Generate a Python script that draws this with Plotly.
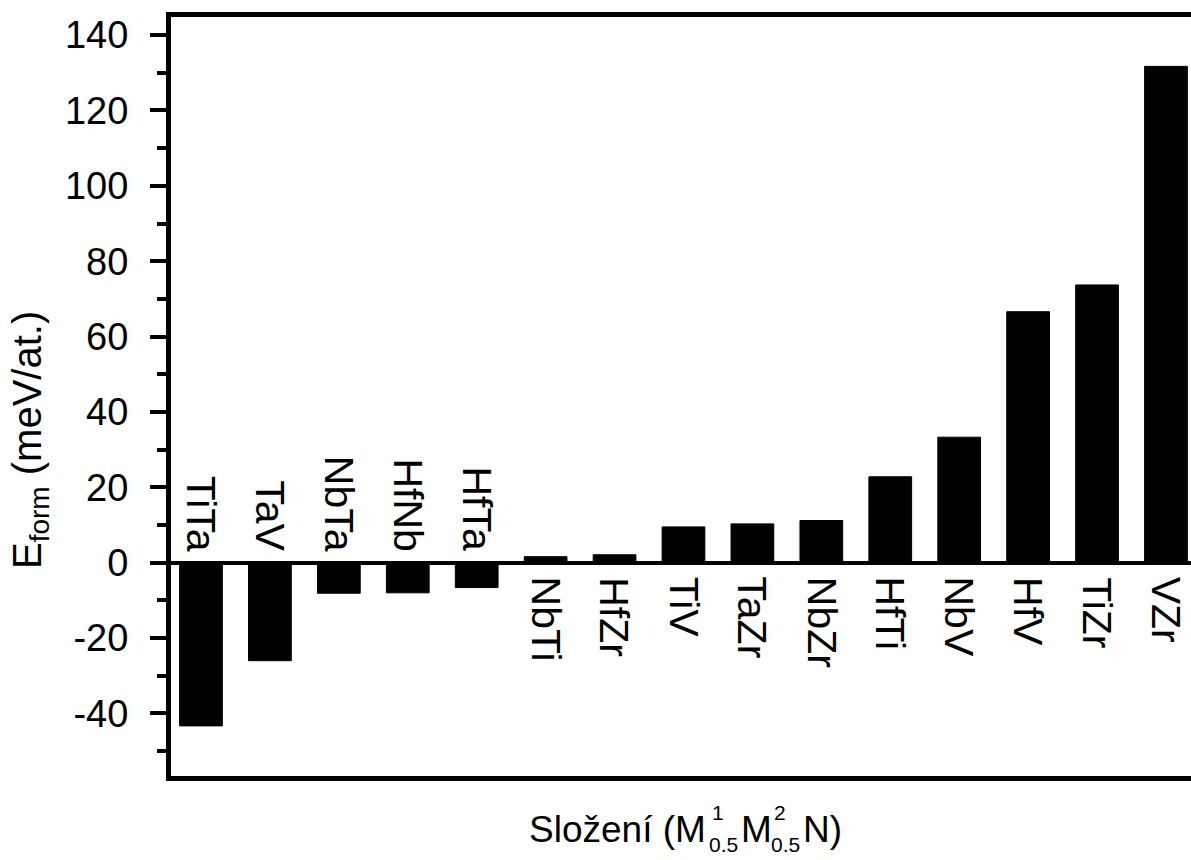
import plotly.graph_objects as go

# Formation energies of binary-metal nitrides (M1_0.5 M2_0.5 N), meV/at.
compositions = ["TiTa", "TaV", "NbTa", "HfNb", "HfTa", "NbTi", "HfZr", "TiV",
                "TaZr", "NbZr", "HfTi", "NbV", "HfV", "TiZr", "VZr"]
e_form = [-43.3, -26.0, -8.1, -8.0, -6.6, 1.6, 2.1, 9.5,
          10.3, 11.2, 22.8, 33.3, 66.6, 73.7, 131.7]

y_tick_vals = [-40, -20, 0, 20, 40, 60, 80, 100, 120, 140]
y_tick_text = [str(v) for v in y_tick_vals]

FONT = "Liberation Sans, Arial, sans-serif"
W, H = 1191, 860
ML, MR, MT, MB = 171, 0, 17, 84
PW, PH = W - ML - MR, H - MT - MB


def px_x(x):
    return (x - ML) / PW


def px_y(y):
    return (H - MB - y) / PH


fig = go.Figure()
fig.add_trace(go.Bar(
    x=compositions,
    y=e_form,
    width=0.62,
    marker=dict(color="black", line=dict(color="black", width=1)),
    showlegend=False,
))

annotations = []
# composition labels: above the zero line for negative bars, below it for positive ones
for name, val in zip(compositions, e_form):
    neg = val < 0
    annotations.append(dict(
        x=name, y=0, xref="x", yref="y",
        text=name, textangle=90, showarrow=False,
        xanchor="center", yanchor="bottom" if neg else "top",
        yshift=9 if neg else -12,
        font=dict(family=FONT, size=41, color="black"),
    ))

# y-axis title
annotations.append(dict(
    x=px_x(30), y=px_y(440), xref="paper", yref="paper",
    text="E<sub>form</sub> (meV/at.)", textangle=-90, showarrow=False,
    xanchor="center", yanchor="middle",
    font=dict(family=FONT, size=40, color="black"),
))

# x-axis title with stacked super/subscripts
main_y = px_y(829)
sup_y = px_y(812)
sub_y = px_y(844)
title_font = dict(family=FONT, size=37, color="black")
small_font = dict(family=FONT, size=21, color="black")
annotations += [
    dict(x=px_x(708), y=main_y, text="Složení (M", xanchor="right", yanchor="middle",
         font=title_font),
    dict(x=px_x(710), y=sup_y, text="1", xanchor="left", yanchor="middle", font=small_font),
    dict(x=px_x(707), y=sub_y, text="0.5", xanchor="left", yanchor="middle", font=small_font),
    dict(x=px_x(739), y=main_y, text="M", xanchor="left", yanchor="middle", font=title_font),
    dict(x=px_x(772), y=sup_y, text="2", xanchor="left", yanchor="middle", font=small_font),
    dict(x=px_x(769), y=sub_y, text="0.5", xanchor="left", yanchor="middle", font=small_font),
    dict(x=px_x(801), y=main_y, text="N)", xanchor="left", yanchor="middle", font=title_font),
]
for a in annotations[-7:]:
    a.update(xref="paper", yref="paper", showarrow=False)

fig.update_layout(
    width=W, height=H,
    margin=dict(l=ML, r=MR, t=MT, b=MB, pad=0),
    paper_bgcolor="white", plot_bgcolor="white",
    font=dict(family=FONT, size=38, color="black"),
    bargap=0.38,
    annotations=annotations,
    xaxis=dict(
        type="category",
        range=[-0.435, 14.363],
        showticklabels=False, ticks="",
        showline=True, linewidth=5, linecolor="black", mirror=True,
        showgrid=False, zeroline=False, automargin=False, fixedrange=True,
    ),
    yaxis=dict(
        range=[-56.6, 144.8],
        tickmode="array", tickvals=y_tick_vals, ticktext=y_tick_text,
        ticks="outside", ticklen=16, tickwidth=4, tickcolor="black",
        tickfont=dict(family=FONT, size=38, color="black"),
        ticklabelstandoff=14,
        minor=dict(dtick=10, tick0=0, ticks="outside", ticklen=9, tickwidth=4,
                   tickcolor="black", showgrid=False),
        showline=True, linewidth=5, linecolor="black", mirror=False,
        showgrid=False, zeroline=True, zerolinewidth=4, zerolinecolor="black",
        automargin=False, fixedrange=True,
    ),
)

fig.write_html("out.html")
